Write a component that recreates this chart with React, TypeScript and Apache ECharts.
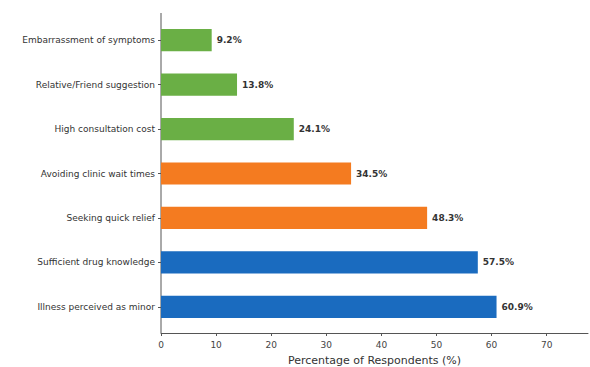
import React, { useEffect, useRef } from "react";
import * as echarts from "echarts";

// Reasons, listed top to bottom
const reasons = [
  "Embarrassment of symptoms",
  "Relative/Friend suggestion",
  "High consultation cost",
  "Avoiding clinic wait times",
  "Seeking quick relief",
  "Sufficient drug knowledge",
  "Illness perceived as minor",
];
const percentages = [9.2, 13.8, 24.1, 34.5, 48.3, 57.5, 60.9];
const groups = ["green", "green", "green", "orange", "orange", "blue", "blue"];
const xTicks = [0, 10, 20, 30, 40, 50, 60, 70];

const groupColors: Record<string, string> = {
  green: "#6aaf45",
  orange: "#f47b20",
  blue: "#1a6bbf",
};

const FONT = "DejaVu Sans, sans-serif";

export default function App() {
  const ref = useRef<HTMLDivElement>(null);

  useEffect(() => {
    if (!ref.current) return;
    const chart = echarts.init(ref.current, undefined, { renderer: "svg" });
    chart.setOption({
      animation: false,
      backgroundColor: "#ffffff",
      textStyle: { fontFamily: FONT },
      grid: {
        left: 161,
        right: 2,
        top: 18,
        bottom: 38,
        containLabel: false,
        outerBoundsMode: "none",
      },
      xAxis: {
        type: "value",
        min: 0,
        max: 77.5,
        offset: 4,
        name: "Percentage of Respondents (%)",
        nameLocation: "middle",
        nameGap: 22,
        nameTextStyle: { fontSize: 11, color: "#333", fontFamily: FONT },
        axisLine: { show: true, lineStyle: { color: "#555", width: 1 } },
        axisTick: {
          show: true,
          length: 3,
          customValues: xTicks,
          lineStyle: { color: "#555" },
        },
        axisLabel: {
          customValues: xTicks,
          fontSize: 9,
          color: "#444",
          margin: 7,
          fontFamily: FONT,
        },
        splitLine: { show: false },
      },
      yAxis: {
        type: "category",
        data: reasons,
        inverse: true,
        axisLine: { show: false },
        axisTick: {
          show: true,
          length: 3,
          alignWithLabel: true,
          interval: 0,
          lineStyle: { color: "#555" },
        },
        axisLabel: {
          fontSize: 9,
          color: "#333",
          margin: 6,
          interval: 0,
          fontFamily: FONT,
        },
      },
      graphic: [
        {
          type: "line",
          shape: { x1: 161, y1: 13, x2: 161, y2: 333 },
          style: { stroke: "#555", lineWidth: 1 },
          silent: true,
        },
      ],
      series: [
        {
          type: "bar",
          barWidth: "50%",
          data: percentages.map((v, i) => ({
            value: v,
            itemStyle: { color: groupColors[groups[i]] },
          })),
          label: {
            show: true,
            position: "right",
            distance: 5,
            formatter: (p: any) => `${p.value.toFixed(1)}%`,
            fontSize: 9,
            fontWeight: "bold",
            color: "#333",
            fontFamily: FONT,
          },
        },
      ],
    });
    return () => chart.dispose();
  }, []);

  return (
    <div
      ref={ref}
      style={{ position: "fixed", left: 0, top: 0, width: 590, height: 367 }}
    />
  );
}
